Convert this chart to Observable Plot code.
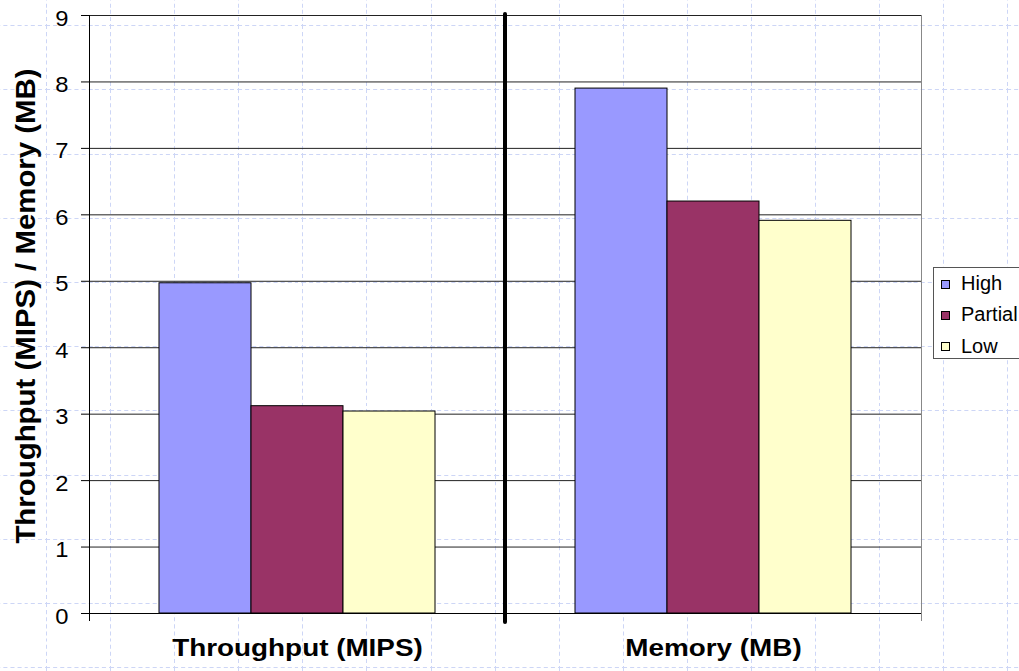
<!DOCTYPE html>
<html>
<head>
<meta charset="utf-8">
<script src="https://cdn.jsdelivr.net/npm/d3@7"></script>
<script src="https://cdn.jsdelivr.net/npm/@observablehq/plot@0.6"></script>
<style>
  html, body { margin: 0; padding: 0; }
  body {
    width: 1019px; height: 671px; overflow: hidden; position: relative;
    background-color: #fff;
    background-image: url("data:image/svg+xml;utf8,<svg xmlns='http://www.w3.org/2000/svg' width='64' height='64' viewBox='0 0 64 64' preserveAspectRatio='none'><path d='M0.5 0V64M0 0.5H64' stroke='%23cdd6f6' stroke-width='1' stroke-dasharray='4 3' fill='none'/></svg>");
    background-size: 64.07px 64.19px;
    background-position: 46.2px 25.3px;
    font-family: "Liberation Sans", Arial, sans-serif;
  }
  #chart { position: absolute; left: 0; top: 0; }
  #legend {
    position: absolute; left: 933px; top: 267px; width: 110px; height: 92px;
    border: 1px solid #555; background: #fff; box-sizing: border-box;
    font-size: 20px; line-height: 31.3px; padding-top: 0px;
  }
  #legend .row { white-space: nowrap; }
  #legend .sw {
    display: inline-block; width: 9px; height: 9px; box-sizing: border-box;
    border: 1px solid #000; margin-left: 6.5px; margin-right: 11.5px; vertical-align: 1.5px;
  }
  svg text.ytick { font-size: 22px !important; font-family: "Liberation Sans", Arial, sans-serif !important; fill: #000; }
</style>
</head>
<body>
<div id="chart"></div>
<div id="legend"></div>
<script>
const categories = ["Throughput (MIPS)", "Memory (MB)"];
const seriesNames = ["High", "Partial", "Low"];
const throughputValues = [4.97, 3.12, 3.04];
const memoryValues = [7.90, 6.20, 5.91];
const yTicks = [0, 1, 2, 3, 4, 5, 6, 7, 8, 9];
const seriesColors = ["#9999ff", "#993366", "#ffffcc"];
const yLabel = "Throughput (MIPS) / Memory (MB)";

const valuesByCategory = [throughputValues, memoryValues];
const data = [];
categories.forEach((c, i) => {
  seriesNames.forEach((s, j) => data.push({category: c, series: s, value: valuesByCategory[i][j]}));
});

const chart = Plot.plot({
  width: 1019,
  height: 671,
  marginLeft: 89,
  marginRight: 98,
  marginTop: 15,
  marginBottom: 58,
  style: {background: "transparent", fontFamily: "'Liberation Sans', Arial, sans-serif", fontSize: "21px", color: "#000"},
  facet: {data, x: "category"},
  fx: {domain: categories, padding: 0, axis: null},
  x: {domain: seriesNames, paddingInner: 0, paddingOuter: 0.75, axis: null},
  y: {domain: [0, 9], ticks: yTicks, tickSize: 8, tickPadding: 13, label: null},
  color: {domain: seriesNames, range: seriesColors},
  marks: [
    Plot.ruleY(yTicks, {stroke: "#222", strokeWidth: 1}),
    Plot.ruleY([0], {stroke: "#000", strokeWidth: 1}),
    Plot.barY(data, {x: "series", y: "value", fill: "series", stroke: "#000", strokeWidth: 1}),
    Plot.text(data, Plot.selectFirst({text: "category", frameAnchor: "bottom", dy: 42, fontSize: 24, fontWeight: "bold", fill: "#000"}))
  ]
});
document.getElementById("chart").append(chart);

const svg = d3.select(chart);
const fxInfo = chart.scale("fx");
const yInfo = chart.scale("y");
const fxBand = d3.scaleBand(fxInfo.domain, fxInfo.range).padding(0);
const yLin = d3.scaleLinear(yInfo.domain, yInfo.range);
const bw = fxBand.bandwidth();
const y0 = yLin(0), yTop = yLin(9);

// category boundary lines (axis, divider, right border)
const bounds = [
  {x: fxBand(categories[0]), stroke: "#000", w: 1, y1: yTop, y2: y0 + 8},
  {x: fxBand(categories[1]), stroke: "#000", w: 4, y1: yTop - 1, y2: y0 + 9},
  {x: fxBand(categories[1]) + bw, stroke: "#888", w: 1, y1: yTop, y2: y0 + 8}
];
svg.append("g").selectAll("line").data(bounds).join("line")
  .attr("x1", d => Math.round(d.x) + (d.w % 2 ? 0.5 : 0))
  .attr("x2", d => Math.round(d.x) + (d.w % 2 ? 0.5 : 0))
  .attr("y1", d => d.y1).attr("y2", d => d.y2)
  .attr("stroke", d => d.stroke).attr("stroke-width", d => d.w)
  .attr("stroke-linecap", d => d.w > 1 ? "round" : "butt");

// y axis title
svg.append("text")
  .attr("class", "ytitle")
  .attr("transform", "translate(35,306) rotate(-90)")
  .attr("text-anchor", "middle")
  .attr("font-weight", "bold")
  .attr("font-size", 28)
  .attr("fill", "#000")
  .text(yLabel);

function stretch(sel, k) {
  sel.each(function () {
    this.removeAttribute("textLength");
    const L = this.getComputedTextLength();
    if (L > 0) {
      this.setAttribute("textLength", L * k);
      this.setAttribute("lengthAdjust", "spacingAndGlyphs");
    }
  });
}
const tickStrings = yTicks.map(String);
const yTickText = svg.selectAll("text").filter(function () {
  return tickStrings.includes(this.textContent.trim());
});
yTickText.classed("ytick", true).attr("font-size", 22).attr("fill", "#000")
  .each(function () {
    if (this.hasAttribute("dy")) this.setAttribute("dy", "0.45em");
    else this.setAttribute("dy", "3");
  });
svg.selectAll('[aria-label^="y-axis"] line, [aria-label^="y-axis"] path').attr("stroke", "#000");
stretch(yTickText, 1.08);
stretch(svg.selectAll('g[aria-label="text"] text'), 1.16);
stretch(svg.selectAll('text.ytitle'), 1.05);

// legend
const legend = d3.select("#legend");
const rows = legend.selectAll("div.row").data(seriesNames).join("div").attr("class", "row");
rows.append("span").attr("class", "sw").style("background", (d, i) => seriesColors[i]);
rows.append("span").text(d => d);
</script>
</body>
</html>
